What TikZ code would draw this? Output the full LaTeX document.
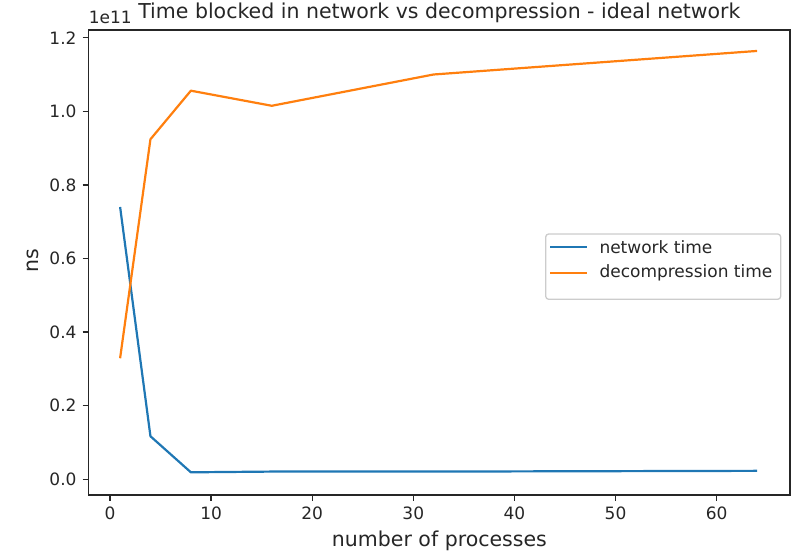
\documentclass[tikz,border=0pt]{standalone}
\usepackage{fontspec}
\setmainfont{DejaVu Sans}
\definecolor{tabblue}{HTML}{1F77B4}
\definecolor{taborange}{HTML}{FF7F0E}
\definecolor{axisgray}{HTML}{262626}
\tikzset{
  spine/.style={draw=axisgray, line width=1.3pt},
  tickmark/.style={draw=axisgray, line width=1.3pt},
  ticklabel/.style={font=\fontsize{17}{20}\selectfont, text=axisgray, inner sep=0pt},
  labeltext/.style={font=\fontsize{20.5}{24}\selectfont, text=axisgray, inner sep=0pt},
  series/.style={line width=2.2pt, line join=round},
  legendbox/.style={draw=black!20, line width=1.3pt, rounded corners=3pt, fill=white},
}
\begin{document}
\begin{tikzpicture}[x=1pt, y=1pt]
\useasboundingbox (0,0) rectangle (800,-556);

% data area: x in processes, y in units of 1e11 ns
\begin{scope}[shift={(110pt,-479.3pt)}, x=10.11pt, y=368pt]
  \draw[series, tabblue] (1,0.74) -- (4,0.117) -- (8,0.019) -- (16,0.021) -- (32,0.021) -- (64,0.023);
  \draw[series, taborange] (1,0.329) -- (4,0.924) -- (8,1.056) -- (16,1.015) -- (32,1.100) -- (64,1.164);
\end{scope}

% axes frame
\draw[spine] (88.7,-30) rectangle (790,-495);

% x ticks
\foreach \v in {0,10,...,60} {
  \pgfmathsetmacro{\px}{110+10.11*\v}
  \draw[tickmark] (\px,-495) -- (\px,-501);
  \node[ticklabel, anchor=north] (xt\v) at (\px,-507) {\v};
}
% y ticks
\foreach \v/\t in {0/0.0,1/0.2,2/0.4,3/0.6,4/0.8,5/1.0,6/1.2} {
  \pgfmathsetmacro{\py}{-479.3+73.6*\v}
  \draw[tickmark] (82.7,\py) -- (88.7,\py);
  \node[ticklabel, anchor=east] (yt\v) at (76.7,\py) {\t};
}

% offset text, title, axis labels
\node[ticklabel, anchor=base west] (offset) at (88.7,-24) {1e11};
\node[labeltext, anchor=base] (title) at (439.4,-19) {Time blocked in network vs decompression - ideal network};
\node[labeltext, anchor=base] (xlabel) at (439.4,-546) {number of processes};
\node[labeltext, anchor=base, rotate=90] (ylabel) at (38.5,-261) {ns};

% legend
\draw[legendbox] (545.7,-234) rectangle (780.7,-299.3);
\coordinate (l1a) at (550,-247.3);
\coordinate (l1b) at (586.7,-247.3);
\coordinate (l2a) at (550,-272.7);
\coordinate (l2b) at (586.7,-272.7);
\draw[series, tabblue] (l1a) -- (l1b);
\draw[series, taborange] (l2a) -- (l2b);
\node[ticklabel, anchor=west] (leg1) at (599.3,-247.3) {network time};
\node[ticklabel, anchor=west] (leg2) at (599.3,-272.7) {decompression time};
\end{tikzpicture}
\end{document}
